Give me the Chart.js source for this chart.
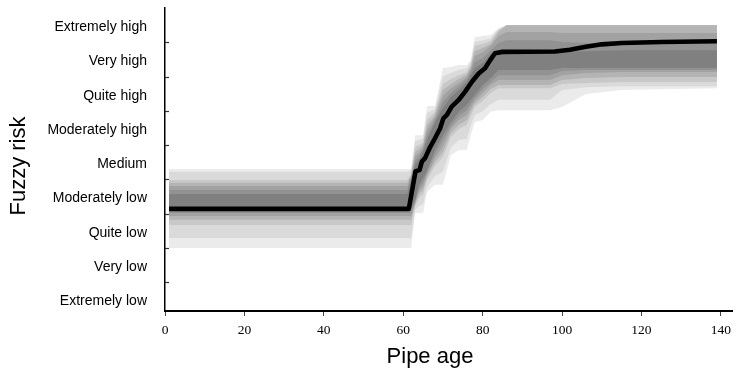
<!DOCTYPE html>
<html>
<head>
<meta charset="utf-8">
<script src="https://cdn.jsdelivr.net/npm/chart.js@4.4.1/dist/chart.umd.min.js"></script>
<style>
  html, body { margin: 0; padding: 0; background: #ffffff; }
  #wrap { width: 738px; height: 371px; }
</style>
</head>
<body>
<div id="wrap"><canvas id="c" width="738" height="371"></canvas></div>
<script>
// ---- Data ----
const riskLevels = ['Extremely low', 'Very low', 'Quite low', 'Moderately low', 'Medium',
                    'Moderately high', 'Quite high', 'Very high', 'Extremely high'];
const ageTicks = [0, 20, 40, 60, 80, 100, 120, 140];
const riskTicks = [1, 2, 3, 4, 5, 6, 7, 8];

// central (black) curve
const lineAge  = [1, 61, 61.4, 63.1, 64.1, 64.7, 65.5, 66.8, 68, 69.3, 70.1, 71, 72.2, 73.9, 75.6, 77.3, 79, 80.6, 81.9, 83.1, 85, 98.2, 102, 106, 110, 115, 125, 139];
const lineRisk = [3.14, 3.14, 3.14, 4.24, 4.27, 4.52, 4.62, 4.95, 5.20, 5.49, 5.78, 5.88, 6.12, 6.31, 6.56, 6.85, 7.09, 7.24, 7.48, 7.68, 7.72, 7.73, 7.78, 7.87, 7.94, 7.98, 8.01, 8.03];

// grey bands (outer = lightest, inner = darkest)
const bandAge = [1, 61, 62, 63, 64, 65, 66, 68, 70, 72, 74, 76, 77, 78, 80, 82, 84, 86, 97, 100, 106, 115, 139];
const l1Upper = [4.30,4.30,4.30,5.29,5.29,5.29,6.14,6.14,7.25,7.28,7.34,7.34,7.48,8.15,8.18,8.21,8.41,8.50,8.50,8.50,8.50,8.50,8.50];
const l1Lower = [2.00,2.00,2.00,3.02,3.02,3.02,3.63,3.84,3.84,4.71,4.86,4.86,5.29,5.67,5.73,5.97,6.02,6.02,6.02,6.11,6.49,6.61,6.66];
const l2Upper = [4.22,4.22,4.27,5.12,5.15,5.21,5.94,6.05,7.01,7.10,7.19,7.25,7.42,8.01,8.06,8.12,8.39,8.50,8.50,8.50,8.50,8.50,8.50];
const l2Lower = [2.29,2.29,2.29,3.11,3.22,3.28,3.78,4.10,4.22,4.94,5.15,5.18,5.56,5.88,5.99,6.20,6.32,6.32,6.32,6.61,6.69,6.72,6.72];
const l3Upper = [3.98,3.98,4.16,4.94,5.00,5.09,5.73,5.97,6.78,6.93,7.04,7.13,7.34,7.89,7.95,8.04,8.36,8.50,8.50,8.50,8.50,8.50,8.50];
const l3Lower = [2.67,2.67,2.67,3.22,3.46,3.57,3.98,4.39,4.65,5.24,5.47,5.59,5.85,6.11,6.29,6.52,6.66,6.66,6.66,6.78,6.81,6.84,6.84];
const l4Upper = [3.90,3.90,4.13,4.80,4.89,5.03,5.59,5.88,6.61,6.78,6.93,7.07,7.28,7.74,7.83,7.95,8.30,8.50,8.50,8.50,8.50,8.50,8.50];
const l4Lower = [2.82,2.82,2.82,3.28,3.57,3.69,4.07,4.51,4.80,5.35,5.59,5.73,5.97,6.20,6.40,6.64,6.75,6.75,6.75,6.90,6.96,6.99,6.99];
const l5Upper = [3.81,3.81,4.10,4.68,4.77,4.94,5.44,5.82,6.43,6.66,6.81,6.99,7.22,7.60,7.71,7.89,8.18,8.30,8.30,8.27,8.27,8.27,8.27];
const l5Lower = [2.93,2.93,2.93,3.31,3.66,3.81,4.13,4.62,4.97,5.47,5.73,5.88,6.08,6.29,6.52,6.75,6.90,6.90,6.90,7.04,7.10,7.13,7.13];
const l6Upper = [3.69,3.69,4.04,4.54,4.68,4.89,5.29,5.73,6.26,6.52,6.72,6.93,7.13,7.42,7.54,7.77,7.98,8.06,8.06,8.01,7.98,7.98,7.98];
const l6Lower = [3.02,3.02,3.02,3.37,3.75,3.92,4.22,4.74,5.15,5.56,5.85,6.02,6.20,6.37,6.64,6.84,7.04,7.04,7.04,7.16,7.19,7.19,7.19];
const l7Upper = [3.57,3.57,3.98,4.42,4.57,4.80,5.15,5.67,6.08,6.40,6.61,6.84,7.04,7.25,7.39,7.66,7.77,7.77,7.77,7.71,7.74,7.77,7.77];
const l7Lower = [3.14,3.14,3.14,3.40,3.84,4.04,4.27,4.86,5.29,5.67,5.97,6.17,6.32,6.46,6.75,6.96,7.19,7.19,7.19,7.25,7.25,7.25,7.25];

// ---- Styles ----
const bandColors = ['#ebebeb', '#dadada', '#c8c8c8', '#b4b4b4', '#a2a2a2', '#929292', '#808080'];
const bands = [[l1Upper, l1Lower], [l2Upper, l2Lower], [l3Upper, l3Lower], [l4Upper, l4Lower],
               [l5Upper, l5Lower], [l6Upper, l6Lower], [l7Upper, l7Lower]];

const pts = (xs, ys) => xs.map((x, i) => ({x: x, y: ys[i]}));

const datasets = [{
  label: 'Fuzzy risk',
  data: pts(lineAge, lineRisk),
  borderColor: '#000000',
  borderWidth: 4.6,
  borderJoinStyle: 'round',
  borderCapStyle: 'butt',
  pointRadius: 0,
  fill: false,
  tension: 0
}];
// inner bands first (drawn last = on top)
for (let k = bands.length - 1; k >= 0; k--) {
  datasets.push({
    data: pts(bandAge, bands[k][0]),
    borderWidth: 0, borderColor: 'transparent', pointRadius: 0, fill: false, tension: 0
  });
  datasets.push({
    data: pts(bandAge, bands[k][1]),
    borderWidth: 0, borderColor: 'transparent', pointRadius: 0, tension: 0,
    fill: '-1', backgroundColor: bandColors[k]
  });
}

const SANS = '"Liberation Sans", Arial, sans-serif';
const SERIF = '"Liberation Serif", "Times New Roman", serif';

const noPad = s => { s.paddingTop = 0; s.paddingBottom = 0; s.paddingLeft = 0; s.paddingRight = 0; };

const decorPlugin = {
  id: 'decor',
  afterDatasetsDraw(chart) {
    const ctx = chart.ctx;
    const ys = chart.scales.y;
    const left = chart.chartArea.left;
    ctx.save();
    ctx.strokeStyle = '#333333';
    ctx.lineWidth = 1.2;
    riskTicks.forEach(v => {
      const py = Math.round(ys.getPixelForValue(v)) + 0.5;
      ctx.beginPath();
      ctx.moveTo(left, py);
      ctx.lineTo(left + 4, py);
      ctx.stroke();
    });
    ctx.restore();
  },
  afterDraw(chart) {
    const ctx = chart.ctx;
    ctx.save();
    ctx.fillStyle = '#000000';
    ctx.font = '22px ' + SANS;
    ctx.textAlign = 'center';
    ctx.textBaseline = 'alphabetic';
    ctx.fillText('Pipe age', 430, 363);
    ctx.translate(25, 166);
    ctx.rotate(-Math.PI / 2);
    ctx.fillText('Fuzzy risk', 0, 0);
    ctx.restore();
  }
};

new Chart(document.getElementById('c'), {
  type: 'line',
  data: { datasets: datasets },
  plugins: [decorPlugin],
  options: {
    responsive: false,
    animation: false,
    devicePixelRatio: 1,
    events: [],
    layout: { padding: { top: 8, right: 6, left: 0, bottom: 0 } },
    plugins: { legend: { display: false }, tooltip: { enabled: false }, title: { display: false } },
    scales: {
      x: {
        type: 'linear',
        position: 'bottom',
        min: 0,
        max: 142.8,
        afterBuildTicks: s => { s.ticks = ageTicks.map(v => ({value: v})); },
        afterFit: s => { s.height = 60; noPad(s); },
        ticks: { includeBounds: false, color: '#000000', padding: 6, maxRotation: 0,
                 font: { family: SERIF, size: 13.5 } },
        grid: { display: true, drawOnChartArea: false, drawTicks: true, tickLength: 5,
                color: '#444444', lineWidth: 1 },
        border: { display: true, color: '#000000', width: 2 }
      },
      y: {
        type: 'linear',
        position: 'left',
        min: 0.16,
        max: 9,
        weight: 0,
        afterBuildTicks: s => { s.ticks = riskTicks.map(v => ({value: v})); },
        afterFit: s => { s.width = 0; noPad(s); },
        ticks: { display: false },
        grid: { display: false, drawTicks: false },
        border: { display: true, color: '#000000', width: 1.5 }
      },
      yCat: {
        type: 'linear',
        position: 'left',
        min: -0.28,
        max: 8.56,
        weight: 1,
        afterBuildTicks: s => { s.ticks = riskLevels.map((n, i) => ({value: i})); },
        afterFit: s => { s.width = 165; noPad(s); },
        ticks: {
          callback: v => riskLevels[v],
          color: '#000000',
          padding: 18,
          autoSkip: false,
          font: { family: SANS, size: 14 }
        },
        grid: { display: false, drawTicks: false },
        border: { display: false }
      }
    }
  }
});
</script>
</body>
</html>
